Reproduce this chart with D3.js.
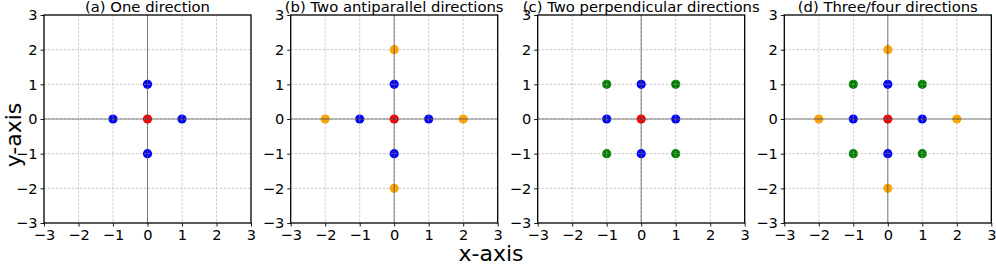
<!DOCTYPE html>
<html>
<head>
<meta charset="utf-8">
<script src="https://cdn.jsdelivr.net/npm/d3@7"></script>
<style>
  html, body { margin: 0; padding: 0; background: #fff; }
  svg { display: block; font-family: "DejaVu Sans", sans-serif; }
</style>
</head>
<body>
<svg id="chart" width="996" height="267"></svg>
<script>
// panel titles
var titles = ['(a) One direction', '(b) Two antiparallel directions',
    '(c) Two perpendicular directions', '(d) Three/four directions'];
var tickValues = [-3, -2, -1, 0, 1, 2, 3];

// neighbour offsets
var centerPts = [[0, 0]];
var nearestPts = [[1, 0], [-1, 0], [0, 1], [0, -1]];
var secondPts = [[2, 0], [-2, 0], [0, 2], [0, -2]];
var diagonalPts = [[1, 1], [-1, 1], [1, -1], [-1, -1]];

// which groups appear in each panel
var panelGroups = [
    ['nearest'],
    ['nearest', 'second'],
    ['nearest', 'diagonal'],
    ['nearest', 'diagonal', 'second']
];

var groups = {
    nearest: { pts: nearestPts, color: '#0000ff' },
    second: { pts: secondPts, color: '#ffa500' },
    diagonal: { pts: diagonalPts, color: '#008000' },
    center: { pts: centerPts, color: '#ff0000' }
};

var svg = d3.select('#chart');
var panelLeft = [44, 290.7, 537.7, 784.3];
var panelW = 207;
var panelTop = 15;
var panelH = 208;

panelGroups.forEach(function (gList, i) {
    var x = d3.scaleLinear().domain([-3, 3]).range([panelLeft[i], panelLeft[i] + panelW]);
    var y = d3.scaleLinear().domain([-3, 3]).range([panelTop + panelH, panelTop]);
    var g = svg.append('g');

    // points
    gList.concat(['center']).forEach(function (key) {
        g.selectAll(null)
            .data(groups[key].pts)
            .enter().append('circle')
            .attr('cx', function (d) { return x(d[0]); })
            .attr('cy', function (d) { return y(d[1]); })
            .attr('r', 4.6)
            .attr('fill', groups[key].color);
    });

    // grid
    g.selectAll(null).data(tickValues.slice(1, -1)).enter().append('line')
        .attr('x1', function (d) { return x(d); })
        .attr('x2', function (d) { return x(d); })
        .attr('y1', panelTop).attr('y2', panelTop + panelH)
        .attr('stroke', '#a8a8a8').attr('stroke-width', 0.8)
        .attr('stroke-dasharray', '2.5,1.5').attr('opacity', 0.75);
    g.selectAll(null).data(tickValues.slice(1, -1)).enter().append('line')
        .attr('y1', function (d) { return y(d); })
        .attr('y2', function (d) { return y(d); })
        .attr('x1', panelLeft[i]).attr('x2', panelLeft[i] + panelW)
        .attr('stroke', '#a8a8a8').attr('stroke-width', 0.8)
        .attr('stroke-dasharray', '2.5,1.5').attr('opacity', 0.75);

    // zero lines
    g.append('line')
        .attr('x1', x(0)).attr('x2', x(0))
        .attr('y1', panelTop).attr('y2', panelTop + panelH)
        .attr('stroke', '#333').attr('stroke-width', 0.8).attr('opacity', 0.75);
    g.append('line')
        .attr('y1', y(0)).attr('y2', y(0))
        .attr('x1', panelLeft[i]).attr('x2', panelLeft[i] + panelW)
        .attr('stroke', '#333').attr('stroke-width', 0.8).attr('opacity', 0.75);

    // axes
    var fmt = function (d) { return d < 0 ? '\u2212' + Math.abs(d) : d; };
    var xAxis = d3.axisBottom(x).tickValues(tickValues).tickSize(3.5).tickPadding(3).tickFormat(fmt);
    var yAxis = d3.axisLeft(y).tickValues(tickValues).tickSize(3.5).tickPadding(3).tickFormat(fmt);

    var gx = g.append('g').attr('transform', 'translate(0,' + (panelTop + panelH) + ')').call(xAxis);
    var gy = g.append('g').attr('transform', 'translate(' + panelLeft[i] + ',0)').call(yAxis);
    [gx, gy].forEach(function (ax) {
        ax.select('.domain').remove();
        ax.selectAll('.tick line').attr('stroke', '#000').attr('stroke-width', 0.9);
        ax.selectAll('.tick text').attr('fill', '#000')
            .attr('font-family', 'DejaVu Sans').attr('font-size', 14.6);
    });

    // frame
    g.append('rect')
        .attr('x', panelLeft[i]).attr('y', panelTop)
        .attr('width', panelW).attr('height', panelH)
        .attr('fill', 'none').attr('stroke', '#000').attr('stroke-width', 1.3);

    // title
    g.append('text')
        .attr('x', panelLeft[i] + panelW / 2).attr('y', 12)
        .attr('text-anchor', 'middle')
        .attr('font-size', 14.8)
        .text(titles[i]);
});

svg.append('text')
    .attr('x', 491).attr('y', 261)
    .attr('text-anchor', 'middle')
    .attr('font-size', 22)
    .text('x-axis');

svg.append('text')
    .attr('transform', 'translate(21,135) rotate(-90)')
    .attr('text-anchor', 'middle')
    .attr('font-size', 22)
    .text('y-axis');
</script>
</body>
</html>
